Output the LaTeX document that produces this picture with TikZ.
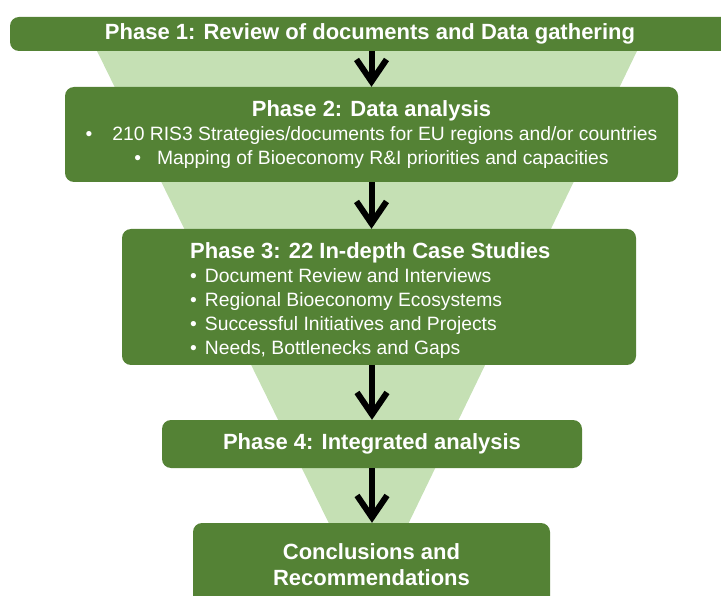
\documentclass[tikz,border=0pt]{standalone}
\usepackage{fontspec}
\setmainfont{Liberation Sans}
\usetikzlibrary{arrows.meta}
\definecolor{dkgreen}{HTML}{548235}
\definecolor{ltgreen}{HTML}{C5E0B4}
\begin{document}
\begin{tikzpicture}[x=1pt,y=-1pt,
  box/.style={fill=dkgreen, rounded corners=9pt, text=white, inner sep=0pt, align=center,
              font=\fontsize{19.3}{24}\selectfont},
  txt/.style={text=white, inner sep=0pt, font=\fontsize{19.3}{24}\selectfont},
  arr/.style={line width=6pt, -{Straight Barb[length=22pt,width=30pt]}}]
\clip (0,0) rectangle (721,596);
\fill[ltgreen] (97,51) -- (637,51) -- (369,605) -- cycle;
\node[box, minimum width=720pt, minimum height=34pt, font=\fontsize{22}{26}\selectfont\bfseries] (p1) at (370,34)
  {\raisebox{-4pt}{Phase 1: Review of documents and Data gathering}};
\node[box, minimum width=613pt, minimum height=95pt] (p2) at (371.5,134.5)
  {{\fontsize{22}{26}\selectfont\bfseries Phase 2: Data analysis}\\
   •\hspace{20pt}210 RIS3 Strategies/documents for EU regions and/or countries\\
   •\hspace{16pt}Mapping of Bioeconomy R\&I priorities and capacities};
\node[box, minimum width=514pt, minimum height=136pt] (p3) at (379,297) {};
\node[txt, anchor=west, align=left] (p3t) at (190,300.5)
  {{\fontsize{22}{27}\selectfont\bfseries Phase 3: 22 In-depth Case Studies}\\
   •\hspace{8pt}Document Review and Interviews\\
   •\hspace{8pt}Regional Bioeconomy Ecosystems\\
   •\hspace{8pt}Successful Initiatives and Projects\\
   •\hspace{8pt}Needs, Bottlenecks and Gaps};
\node[box, minimum width=420pt, minimum height=48pt, font=\fontsize{22}{26}\selectfont\bfseries] (p4) at (372,444)
  {\raisebox{-2pt}{Phase 4: Integrated analysis}};
\node[box, minimum width=357pt, minimum height=84pt, font=\fontsize{22}{26}\selectfont\bfseries] (p5) at (371.5,565)
  {Conclusions and\\Recommendations};
\draw[arr] (p2.north |- p1.south) -- (p2.north);
\draw[arr] (p2.south) -- (p2.south |- p3.north);
\draw[arr] (p4.north |- p3.south) -- (p4.north);
\draw[arr] (p4.south) -- (p4.south |- p5.north);
\end{tikzpicture}
\end{document}
